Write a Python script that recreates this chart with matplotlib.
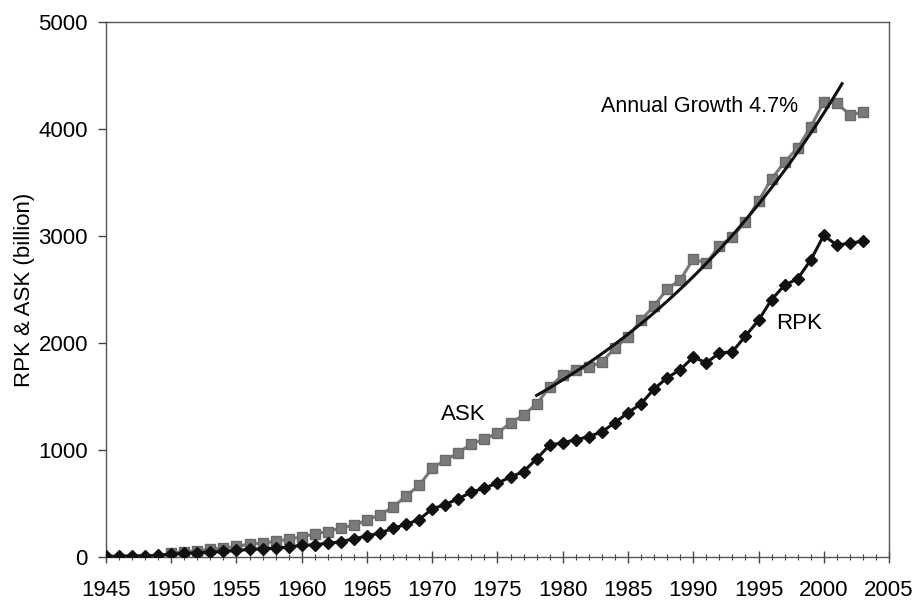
import numpy as np
import matplotlib
matplotlib.use("Agg")
import matplotlib.pyplot as plt
from matplotlib.ticker import MultipleLocator

# Revenue passenger km (billion), 1945-2003
rpk_years = list(range(1945, 2004))
rpk = [5, 8, 10, 12, 15,
       28, 33, 40, 46, 52, 61, 70, 78, 82, 94,
       108, 115, 128, 143, 170, 195, 225, 268, 305, 350,
       450, 490, 545, 605, 645, 690, 748, 798, 918, 1045,
       1068, 1095, 1125, 1170, 1255, 1348, 1432, 1570, 1675, 1750,
       1868, 1815, 1905, 1918, 2065, 2212, 2405, 2540, 2600, 2775,
       3005, 2915, 2932, 2952]

# Available seat km (billion), 1950-2003
ask_years = list(range(1950, 2004))
ask = [40, 48, 58, 72, 84, 98, 121, 131, 145, 168,
       187, 215, 238, 271, 295, 346, 393, 467, 570, 670,
       828, 907, 972, 1060, 1098, 1159, 1252, 1327, 1430, 1589,
       1701, 1748, 1772, 1822, 1953, 2056, 2215, 2346, 2505, 2589,
       2785, 2748, 2907, 2991, 3135, 3327, 3533, 3692, 3822, 4019,
       4252, 4243, 4131, 4159]

# Trend line: 4.7% annual growth
trend_start, trend_end = 1978, 2001.4
trend_base = 1510
growth = 0.047

plt.rcParams["font.family"] = ["Liberation Sans", "DejaVu Sans"]

fig = plt.figure(figsize=(9.15, 6.02), dpi=100)
ax = fig.add_axes([0.1158, 0.0748, 0.8558, 0.8887])

ax.plot(ask_years, ask, color="#7a7a7a", lw=2.2, marker="s", ms=7,
        mfc="#7a7a7a", mec="#6a6a6a", zorder=3)
ax.plot(rpk_years, rpk, color="#111111", lw=2.2, marker="D", ms=6,
        mfc="#111111", mec="#111111", zorder=4)

tx = np.linspace(trend_start, trend_end, 100)
ty = trend_base * (1 + growth) ** (tx - trend_start)
ax.plot(tx, ty, color="#111111", lw=2.2, zorder=5)

ax.text(1972.4, 1336, "ASK", fontsize=16, ha="center", va="center")
ax.text(1998.1, 2178, "RPK", fontsize=16, ha="center", va="center")
ax.text(1982.9, 4206, "Annual Growth 4.7%", fontsize=15.5, ha="left", va="center")

ax.set_xlim(1945, 2005)
ax.set_ylim(0, 5000)
ax.xaxis.set_major_locator(MultipleLocator(5))
ax.xaxis.set_minor_locator(MultipleLocator(1))
ax.yaxis.set_major_locator(MultipleLocator(1000))

ax.tick_params(axis="x", which="major", direction="inout", length=9,
               width=1, color="#444444", labelsize=16, pad=12)
ax.tick_params(axis="x", which="minor", direction="inout", length=5,
               width=0.8, color="#444444")
ax.tick_params(axis="y", which="major", direction="out", length=6,
               width=1, color="#444444", labelsize=16, pad=7)

for s in ax.spines.values():
    s.set_color("#555555")
    s.set_linewidth(1.0)

ax.set_ylabel("RPK & ASK (billion)", fontsize=16, labelpad=2)

fig.savefig("out.png", dpi=100)
